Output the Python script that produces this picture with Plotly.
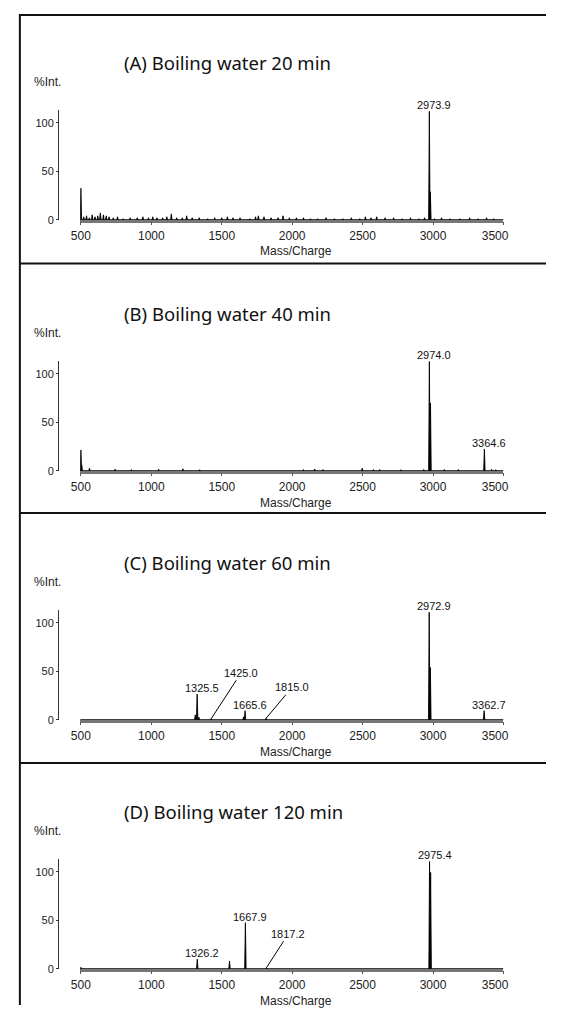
import plotly.graph_objects as go

W, H = 568, 1011

# ---------------- data ----------------
panel_titles = ["(A) Boiling water 20 min", "(B) Boiling water 40 min",
                "(C) Boiling water 60 min", "(D) Boiling water 120 min"]
x_tick_vals = [500, 1000, 1500, 2000, 2500, 3000, 3500]
x_tick_text = ["500", "1000", "1500", "2000", "2500", "3000", "3500"]
y_tick_vals = [0, 50, 100]
y_tick_text = ["0", "50", "100"]
x_title = "Mass/Charge"
y_title = "%Int."

# Panel A: 20 min (main peaks + baseline noise)
a_mz = [500, 2973.9, 2981,
        520, 540, 560, 580, 600, 620, 638, 660, 680, 700, 730, 760, 800, 850,
        900, 940, 980, 1010, 1040, 1080, 1110, 1142, 1180, 1220, 1251, 1290,
        1340, 1400, 1450, 1500, 1540, 1580, 1630, 1700, 1740, 1760, 1800, 1850,
        1900, 1935, 1980, 2030, 2080, 2130, 2180, 2240, 2300, 2360, 2420, 2480,
        2520, 2560, 2600, 2660, 2720, 2780, 2840, 2900, 2940, 3010, 3060, 3120,
        3190, 3260, 3320, 3380, 3430]
a_int = [32.6, 112, 28.8,
         3, 4, 2, 5, 3, 4, 7, 5, 4, 3, 2, 3, 1, 2,
         2, 3, 2, 3, 2, 2, 3, 6, 2, 2, 4, 2,
         2, 1, 2, 2, 3, 2, 2, 1, 3, 4, 3, 2,
         2, 4, 2, 2, 2, 1, 1, 2, 1, 1, 2, 1,
         3, 2, 3, 2, 2, 1, 2, 1, 2, 1, 2, 1,
         1, 2, 1, 2, 1]
a_labels = ["2973.9"]
a_leader_labels = []

# Panel B: 40 min
b_mz = [500, 506, 561, 743, 859, 1052, 1224, 1343, 2080, 2160, 2218, 2497,
        2577, 2621, 2772, 2934, 2974.0, 2982, 3080, 3180, 3364.6, 3416, 3445]
b_int = [21.4, 6, 2.5, 1.5, 1.2, 1.5, 2, 1, 1.2, 1.8, 1.2, 2.5,
         1.2, 1.2, 1, 1.2, 113, 70, 1.2, 1.2, 22.4, 1.5, 1]
b_labels = ["2974.0", "3364.6"]
b_leader_labels = []

# Panel C: 60 min
c_mz = [1312, 1325.5, 1338, 1425.0, 1655, 1665.6, 1815.0, 2972.9, 2981, 3362.7]
c_int = [5, 26.4, 2.5, 1, 3, 9.2, 1.5, 111, 54, 9.2]
c_labels = ["1325.5", "1665.6", "2972.9", "3362.7"]
c_leader_labels = ["1425.0", "1815.0"]

# Panel D: 120 min
d_mz = [500, 1326.2, 1555, 1667.9, 1817.2, 2975.4, 2983]
d_int = [1.5, 9.8, 8, 47.5, 1, 110.8, 99.5]
d_labels = ["1326.2", "1667.9", "2975.4"]
d_leader_labels = ["1817.2"]

panels = [(a_mz, a_int, a_labels, a_leader_labels),
          (b_mz, b_int, b_labels, b_leader_labels),
          (c_mz, c_int, c_labels, c_leader_labels),
          (d_mz, d_int, d_labels, d_leader_labels)]

# ---------------- style / layout ----------------
BASES = [221.0, 473.5, 724.0, 974.5]       # baseline pixel row of each panel
X0, X1 = 75.3, 523.0                        # x-axis pixel span
X_RANGE = [495, 3500]
Y_RANGE = [0, 113]
PLOT_H = 110
YAX_PX = 52.0
HW = 5                                      # half width of peak triangles (m/z)
LEADER_OFFSETS = {"1425.0": (30, -46), "1815.0": (26, -31), "1817.2": (22, -34)}
AX_FONT = "Liberation Sans, Arial, sans-serif"
TITLE_FONT = "Noto Sans, Open Sans, sans-serif"


def pxx(p):
    return p / W


def pxy(p):
    return 1 - p / H


fig = go.Figure()
annotations = []
shapes = []
layout = {}

for i, (mz, inten, labels, leaders) in enumerate(panels):
    sid = "" if i == 0 else str(i + 1)
    xa, ya = "x" + sid, "y" + sid
    base = BASES[i]

    # peaks as narrow filled triangles
    xs, ys = [], []
    for m, h in sorted(zip(mz, inten)):
        xs += [m - HW, m, m + HW, m - HW, None]
        ys += [0, h, 0, 0, None]
    fig.add_trace(go.Scatter(x=xs, y=ys, mode="lines", fill="toself",
                             fillcolor="black", line=dict(color="black", width=0.9),
                             xaxis=xa, yaxis=ya, showlegend=False, hoverinfo="skip"))
    # baseline of the spectrum
    fig.add_trace(go.Scatter(x=X_RANGE, y=[0, 0], mode="lines",
                             line=dict(color="black", width=1.2),
                             xaxis=xa, yaxis=ya, showlegend=False, hoverinfo="skip"))

    layout["xaxis" + sid] = dict(
        domain=[pxx(X0), pxx(X1)], range=X_RANGE, anchor=ya,
        tickvals=x_tick_vals,
        ticktext=[t if t != "3500" else t + "\u00a0" * 5 for t in x_tick_text],
        showline=True, linecolor="#777777", linewidth=2.5,
        layer="below traces" if i < 2 else "above traces",
        ticks="outside", ticklen=3, tickcolor="#555555", tickwidth=1,
        tickfont=dict(family=AX_FONT, size=12, color="#222222"),
        showgrid=False, zeroline=False, fixedrange=True)
    layout["yaxis" + sid] = dict(
        domain=[pxy(base), pxy(base - PLOT_H)], range=Y_RANGE,
        anchor="free", position=pxx(YAX_PX),
        tickvals=y_tick_vals, ticktext=y_tick_text,
        showline=True, linecolor="#333333", linewidth=1.3,
        ticks="outside", ticklen=2, tickcolor="#333333", tickwidth=1,
        tickfont=dict(family=AX_FONT, size=11, color="#222222"),
        showgrid=False, zeroline=False, fixedrange=True)

    # panel title
    annotations.append(dict(text=panel_titles[i], xref="paper", yref="paper",
                            x=pxx(119.6), y=pxy(base - 158.5), xanchor="left",
                            yanchor="middle", showarrow=False,
                            font=dict(family=TITLE_FONT, size=18.5, color="#111111")))
    # axis titles
    annotations.append(dict(text=y_title, xref="paper", yref="paper",
                            x=pxx(41), y=pxy(base - 139), xanchor="center",
                            yanchor="middle", showarrow=False,
                            font=dict(family=AX_FONT, size=12, color="#222222")))
    annotations.append(dict(text=x_title, xref="paper", yref="paper",
                            x=pxx(304), y=pxy(base + 32), xanchor="center",
                            yanchor="middle", showarrow=False,
                            font=dict(family=AX_FONT, size=12, color="#222222")))

    # peak labels
    for lab in labels:
        m = float(lab)
        h = inten[mz.index(m)]
        annotations.append(dict(text=lab, x=m, y=h, xref=xa, yref=ya,
                                xanchor="center", yanchor="bottom", xshift=5,
                                yshift=-2, showarrow=False,
                                font=dict(family=AX_FONT, size=11, color="#111111")))
    for lab in leaders:
        m = float(lab)
        h = inten[mz.index(m)]
        dx, dy = LEADER_OFFSETS[lab]
        annotations.append(dict(text=lab, x=m, y=h, xref=xa, yref=ya,
                                showarrow=True, arrowhead=0, arrowwidth=1,
                                arrowcolor="black", ax=dx, ay=dy, standoff=0,
                                font=dict(family=AX_FONT, size=11, color="#111111")))

# frame lines
line_style = dict(color="#111111", width=2)
shapes.append(dict(type="line", xref="paper", yref="paper", x0=pxx(11.5), x1=pxx(11.5),
                   y0=pxy(14), y1=0, line=line_style))
for yp in [15, 265, 516, 767.5]:
    shapes.append(dict(type="line", xref="paper", yref="paper", x0=pxx(11), x1=1,
                       y0=pxy(yp), y1=pxy(yp), line=line_style))

fig.update_layout(width=W, height=H, margin=dict(l=0, r=0, t=0, b=0),
                  paper_bgcolor="white", plot_bgcolor="white",
                  annotations=annotations, shapes=shapes, **layout)

fig.write_html("out.html", config={"displayModeBar": False},
               post_script="document.body.style.margin='0';"
                           "document.body.style.overflow='hidden';")
